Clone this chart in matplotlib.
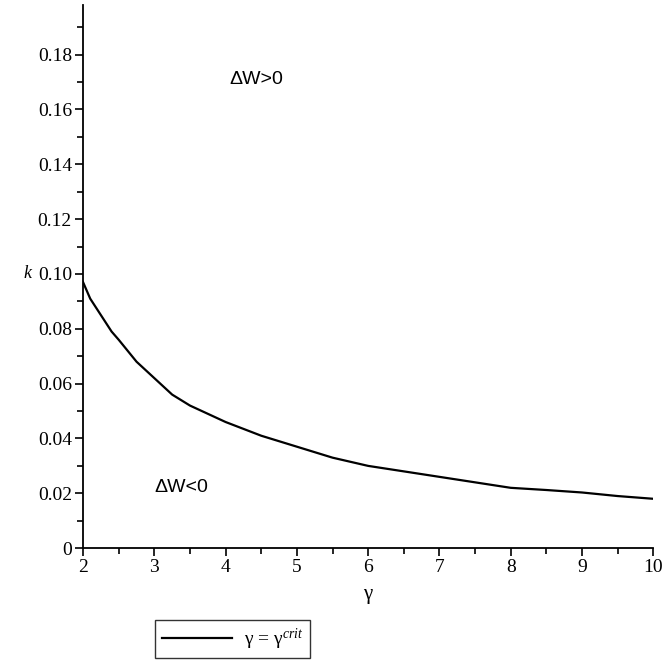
import numpy as np
import matplotlib.pyplot as plt
from matplotlib.ticker import MultipleLocator

# critical curve
gamma = [2.0, 2.1, 2.25, 2.4, 2.5, 2.75, 3.0, 3.25, 3.5, 3.75, 4.0, 4.5, 5.0, 5.5, 6.0, 6.5,
         7.0, 7.5, 8.0, 8.5, 9.0, 9.5, 10.0]
k_crit = [0.097, 0.091, 0.085, 0.079, 0.076, 0.068, 0.062, 0.056, 0.052, 0.049, 0.046, 0.041,
          0.037, 0.033, 0.030, 0.028, 0.026, 0.024, 0.022, 0.0212, 0.0203, 0.019, 0.018]

xticks = [2, 3, 4, 5, 6, 7, 8, 9, 10]
yticks = [0, 0.02, 0.04, 0.06, 0.08, 0.10, 0.12, 0.14, 0.16, 0.18]
ytick_labels = ['0', '0.02', '0.04', '0.06', '0.08', '0.10', '0.12', '0.14', '0.16', '0.18']

serif = 'Liberation Serif'
sans = 'Liberation Sans'
plt.rcParams['mathtext.fontset'] = 'custom'
plt.rcParams['mathtext.rm'] = serif
plt.rcParams['mathtext.it'] = serif + ':italic'

fig = plt.figure(figsize=(6.7, 6.62), dpi=100)
ax = fig.add_axes([0.124, 0.172, 0.851, 0.82])

line, = ax.plot(gamma, k_crit, color='black', lw=1.6)

ax.set_xlim(2, 10)
ax.set_ylim(0, 0.198)
ax.spines['top'].set_visible(False)
ax.spines['right'].set_visible(False)
ax.spines['left'].set_linewidth(1.3)
ax.spines['bottom'].set_linewidth(1.3)

ax.set_xticks(xticks)
ax.set_xticklabels([str(t) for t in xticks], fontfamily=serif, fontsize=14)
ax.set_yticks(yticks)
ax.set_yticklabels(ytick_labels, fontfamily=serif, fontsize=14)
ax.xaxis.set_minor_locator(MultipleLocator(0.5))
ax.yaxis.set_minor_locator(MultipleLocator(0.01))
ax.tick_params(which='major', direction='out', length=6, width=1.2, pad=2)
ax.tick_params(which='minor', direction='out', length=4, width=1.2)

ax.set_xlabel('γ', fontfamily=serif, fontsize=15, labelpad=6)
ax.set_ylabel('k', fontfamily=serif, fontstyle='italic', fontsize=13, rotation=0, labelpad=2)
ax.yaxis.set_label_coords(-0.098, 0.49)

ax.text(4.05, 0.171, 'ΔW>0', fontfamily=sans, fontsize=14, va='center')
ax.text(3.0, 0.022, 'ΔW<0', fontfamily=sans, fontsize=14, va='center')

leg = fig.legend([line], [r'γ = γ$^{\mathit{crit}}$'], loc='upper center',
                 bbox_to_anchor=(0.347, 0.064), frameon=True, fancybox=False,
                 edgecolor='black', prop={'family': serif, 'size': 14},
                 handlelength=3.6, borderpad=0.35, borderaxespad=0, handletextpad=0.6)
leg.get_frame().set_linewidth(1.0)

fig.savefig('out.png', dpi=100)
